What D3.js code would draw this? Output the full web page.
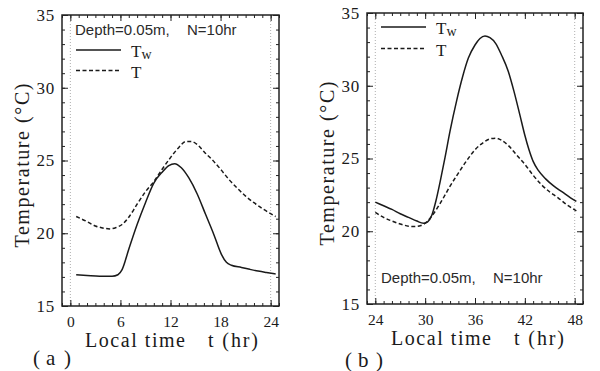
<!DOCTYPE html>
<html>
<head>
<meta charset="utf-8">
<script src="https://cdn.jsdelivr.net/npm/d3@7"></script>
<style>
  html, body { margin: 0; padding: 0; background: #fff; }
  svg { display: block; }
  .serif { font-family: "Liberation Serif", "Times New Roman", serif; fill: #1a1a1a; }
  .sans { font-family: "Liberation Sans", Arial, sans-serif; fill: #2a2a2a; }
</style>
</head>
<body>
<div id="chart"></div>
<script>
// panel (a): local time 0-24 hr
const timeA_Tw = [0.7, 2, 3.5, 5, 5.7, 6.2, 7, 8, 9, 10, 11, 11.8, 12.5, 13.3, 14.2, 15.2, 16.2, 17.2, 18.1, 18.7, 19.3, 20.5, 21.5, 22.5, 23.5, 24.6];
const valA_Tw = [17.15, 17.1, 17.05, 17.05, 17.15, 17.5, 18.9, 20.6, 22.1, 23.45, 24.2, 24.65, 24.78, 24.5, 23.8, 22.7, 21.3, 19.9, 18.55, 18.0, 17.8, 17.65, 17.52, 17.4, 17.3, 17.2];
const timeA_T = [0.7, 2, 3, 4, 4.7, 5.5, 6.2, 7, 8, 9, 10, 11, 12, 13, 13.8, 14.5, 15.3, 16.1, 17, 18, 19, 20, 21, 22, 23, 24.6];
const valA_T = [21.15, 20.8, 20.5, 20.35, 20.3, 20.4, 20.6, 21.1, 22.0, 22.85, 23.55, 24.4, 25.2, 25.9, 26.3, 26.3, 26.05, 25.55, 25.05, 24.4, 23.7, 23.1, 22.55, 22.1, 21.7, 21.15];

// panel (b): local time 24-48 hr
const timeB_Tw = [24, 25, 26, 27, 28, 29, 29.8, 30.3, 30.8, 31.3, 31.8, 32.4, 33, 33.8, 34.5, 35.2, 36, 36.6, 37.2, 37.8, 38.5, 39.2, 40, 40.7, 41.4, 42, 42.5, 43, 43.6, 44.5, 45.5, 46.5, 47.5, 48.2];
const valB_Tw = [22.0, 21.75, 21.5, 21.2, 20.95, 20.7, 20.55, 20.65, 21.1, 22.1, 23.4, 25.1, 26.9, 29.0, 30.6, 31.9, 32.8, 33.25, 33.42, 33.3, 32.9, 32.1, 31.0, 29.6, 28.0, 26.6, 25.6, 24.8, 24.2, 23.6, 23.1, 22.7, 22.3, 22.05];
const timeB_T = [24, 25, 26, 27, 28, 28.7, 29.5, 30.2, 31, 32, 33, 34, 35, 36, 37, 37.8, 38.5, 39.2, 40, 41, 42, 43, 44, 45, 46, 47, 48.2];
const valB_T = [21.3, 20.95, 20.7, 20.5, 20.35, 20.32, 20.4, 20.65, 21.2, 22.1, 23.1, 24.0, 24.85, 25.6, 26.1, 26.35, 26.4, 26.25, 25.9, 25.25, 24.6, 23.85, 23.2, 22.7, 22.3, 21.85, 21.4];

const xTicksA = [0, 6, 12, 18, 24];
const xTicksB = [24, 30, 36, 42, 48];
const yTicks = [15, 20, 25, 30, 35];

const width = 600;
const height = 371;

const svg = d3.select('#chart').append('svg')
  .attr('width', width)
  .attr('height', height);

const zip = (ts, vs) => ts.map((t, i) => [t, vs[i]]);

function drawPanel(cfg) {
  const x = d3.scaleLinear().domain(cfg.xDomain).range([cfg.left, cfg.right]);
  const y = d3.scaleLinear().domain([15, 35]).range([cfg.bottom, cfg.top]);
  const g = svg.append('g');
  const minorX = d3.range(Math.ceil(cfg.xDomain[0]), cfg.xDomain[1] + 0.01, 1);
  const minorY = d3.range(15, 35.01, 1);

  // dotted guide lines at day boundaries
  cfg.guides.forEach((t) => {
    g.append('line')
      .attr('x1', x(t)).attr('x2', x(t))
      .attr('y1', cfg.top).attr('y2', cfg.bottom)
      .attr('stroke', '#999').attr('stroke-width', 0.8)
      .attr('stroke-dasharray', '1,2');
  });

  const styleAxis = (sel) => {
    sel.select('.domain').remove();
    sel.selectAll('line').attr('stroke', '#222').attr('stroke-width', 1);
  };

  // minor ticks, all four sides
  g.append('g').attr('transform', `translate(0,${cfg.bottom})`)
    .call(d3.axisBottom(x).tickValues(minorX).tickSize(-3).tickFormat('')).call(styleAxis);
  g.append('g').attr('transform', `translate(0,${cfg.top})`)
    .call(d3.axisTop(x).tickValues(minorX).tickSize(-3).tickFormat('')).call(styleAxis);
  g.append('g').attr('transform', `translate(${cfg.left},0)`)
    .call(d3.axisLeft(y).tickValues(minorY).tickSize(-3).tickFormat('')).call(styleAxis);
  g.append('g').attr('transform', `translate(${cfg.right},0)`)
    .call(d3.axisRight(y).tickValues(minorY).tickSize(-3).tickFormat('')).call(styleAxis);

  // major ticks with labels
  const bx = g.append('g').attr('transform', `translate(0,${cfg.bottom})`)
    .call(d3.axisBottom(x).tickValues(cfg.xTicks).tickSizeInner(-6).tickSizeOuter(0).tickPadding(10))
    .call(styleAxis);
  bx.selectAll('text').attr('class', 'serif').attr('font-size', 15.5).attr('fill', '#1a1a1a');
  g.append('g').attr('transform', `translate(0,${cfg.top})`)
    .call(d3.axisTop(x).tickValues(cfg.xTicks).tickSize(-6).tickFormat('')).call(styleAxis);
  const ly = g.append('g').attr('transform', `translate(${cfg.left},0)`)
    .call(d3.axisLeft(y).tickValues(yTicks).tickSizeInner(-6).tickSizeOuter(0).tickPadding(7))
    .call(styleAxis);
  ly.selectAll('text').attr('class', 'serif').attr('font-size', 17)
    .attr('letter-spacing', 0.8).attr('fill', '#1a1a1a');
  g.append('g').attr('transform', `translate(${cfg.right},0)`)
    .call(d3.axisRight(y).tickValues(yTicks).tickSize(-6).tickFormat('')).call(styleAxis);

  g.append('rect')
    .attr('x', cfg.left).attr('y', cfg.top)
    .attr('width', cfg.right - cfg.left).attr('height', cfg.bottom - cfg.top)
    .attr('fill', 'none').attr('stroke', '#222').attr('stroke-width', 1.5);

  const line = d3.line().x((d) => x(d[0])).y((d) => y(d[1])).curve(d3.curveMonotoneX);

  g.append('path').datum(cfg.tw)
    .attr('d', line).attr('fill', 'none')
    .attr('stroke', '#1a1a1a').attr('stroke-width', 1.5);
  g.append('path').datum(cfg.t)
    .attr('d', line).attr('fill', 'none')
    .attr('stroke', '#1a1a1a').attr('stroke-width', 1.5)
    .attr('stroke-dasharray', '4,2.5');

  // legend
  const lg = cfg.legend;
  g.append('line').attr('x1', lg.x).attr('x2', lg.x + 45)
    .attr('y1', lg.y1).attr('y2', lg.y1)
    .attr('stroke', '#1a1a1a').attr('stroke-width', 1.5);
  g.append('line').attr('x1', lg.x).attr('x2', lg.x + 45)
    .attr('y1', lg.y2).attr('y2', lg.y2)
    .attr('stroke', '#1a1a1a').attr('stroke-width', 1.5).attr('stroke-dasharray', '4,2.5');
  const tw = g.append('text').attr('class', 'serif').attr('x', lg.x + 55).attr('y', lg.y1 + 7).attr('font-size', 17);
  tw.append('tspan').text('T');
  tw.append('tspan').attr('dy', 2).attr('font-size', 14).text('w');
  g.append('text').attr('class', 'serif').attr('x', lg.x + 55).attr('y', lg.y2 + 7)
    .attr('font-size', 17).text('T');

  // annotation
  g.append('text').attr('class', 'sans').attr('x', cfg.note.x).attr('y', cfg.note.y)
    .attr('font-size', 15).text('Depth=0.05m,');
  g.append('text').attr('class', 'sans').attr('x', cfg.note.x + 112).attr('y', cfg.note.y)
    .attr('font-size', 15).text('N=10hr');

  // axis titles
  g.append('text').attr('class', 'serif')
    .attr('transform', `translate(${cfg.yTitleX},${(cfg.top + cfg.bottom) / 2 + 5}) rotate(-90)`)
    .attr('text-anchor', 'middle').attr('font-size', 20)
    .attr('textLength', 164).attr('lengthAdjust', 'spacing')
    .text('Temperature (°C)');
  g.append('text').attr('class', 'serif').attr('x', cfg.xTitleX).attr('y', cfg.xTitleY)
    .attr('font-size', 20).attr('textLength', 100).attr('lengthAdjust', 'spacing')
    .text('Local time');
  g.append('text').attr('class', 'serif').attr('x', cfg.xTitleX + 123).attr('y', cfg.xTitleY)
    .attr('font-size', 20).attr('textLength', 50).attr('lengthAdjust', 'spacing')
    .text('t (hr)');

  // panel tag
  g.append('text').attr('class', 'serif').attr('x', cfg.tag.x).attr('y', cfg.tag.y)
    .attr('font-size', 21).text('(');
  g.append('text').attr('class', 'serif').attr('x', cfg.tag.x + 13).attr('y', cfg.tag.y)
    .attr('font-size', 21).text(cfg.tag.label);
  g.append('text').attr('class', 'serif').attr('x', cfg.tag.x + 31).attr('y', cfg.tag.y)
    .attr('font-size', 21).text(')');
}

drawPanel({
  xDomain: [-1, 25], xTicks: xTicksA, guides: [0, 24],
  left: 62, right: 279, top: 15, bottom: 306,
  tw: zip(timeA_Tw, valA_Tw), t: zip(timeA_T, valA_T),
  legend: { x: 76, y1: 50, y2: 70.5 },
  note: { x: 75, y: 35 },
  yTitleX: 29, xTitleX: 85, xTitleY: 347,
  tag: { x: 33, y: 365, label: 'a' },
});

drawPanel({
  xDomain: [23, 49], xTicks: xTicksB, guides: [24, 48],
  left: 367, right: 583, top: 13, bottom: 304,
  tw: zip(timeB_Tw, valB_Tw), t: zip(timeB_T, valB_T),
  legend: { x: 381, y1: 27, y2: 48.5 },
  note: { x: 381, y: 283 },
  yTitleX: 334, xTitleX: 391, xTitleY: 345,
  tag: { x: 345, y: 367, label: 'b' },
});
</script>
</body>
</html>
